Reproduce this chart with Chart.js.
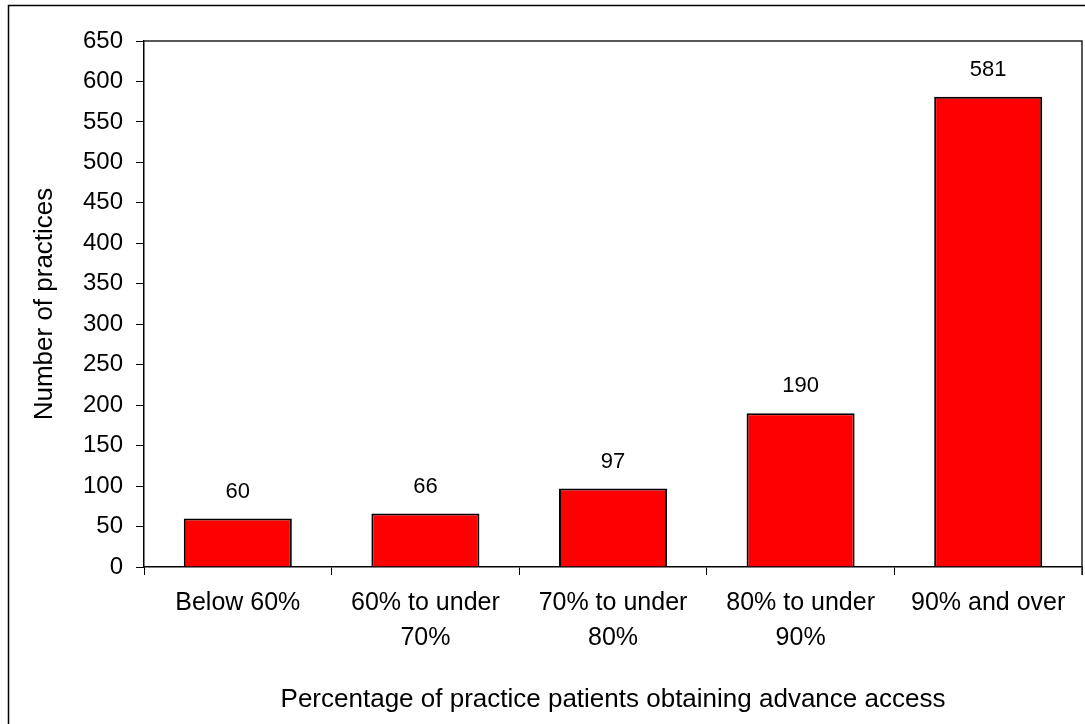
<!DOCTYPE html>
<html>
<head>
<meta charset="utf-8">
<script src="https://cdn.jsdelivr.net/npm/chart.js@4/dist/chart.umd.min.js"></script>
<style>
  html, body { margin: 0; padding: 0; background: #fff; }
  #wrap { width: 1085px; height: 724px; position: relative; }
</style>
</head>
<body>
<div id="wrap"><canvas id="myChart"></canvas></div>
<script>
// chart data
const Categories = [
  ['Below 60%'],
  ['60% to under', '70%'],
  ['70% to under', '80%'],
  ['80% to under', '90%'],
  ['90% and over']
]
const Practices = [60, 66, 97, 190, 581]
const YMax = 650
const YStep = 50

const FONT = "'Liberation Sans', Arial, sans-serif"

// frame round the whole picture (left + top only) and box round plot area
const framePlugin = {
  id: 'frame',
  afterDraw(chart) {
    const c = chart.ctx
    const a = chart.chartArea
    c.save()
    c.strokeStyle = '#000'
    c.lineWidth = 1.5
    c.beginPath()
    c.moveTo(8.5, 730)
    c.lineTo(8.5, 5.5)
    c.lineTo(1090, 5.5)
    c.stroke()
    c.strokeStyle = '#222'
    c.beginPath()
    c.moveTo(a.left, a.top)
    c.lineTo(a.right, a.top)
    c.lineTo(a.right, a.bottom + 8)
    c.stroke()
    c.restore()
  }
}

// value over each bar
const valuePlugin = {
  id: 'values',
  afterDatasetsDraw(chart) {
    const c = chart.ctx
    const meta = chart.getDatasetMeta(0)
    c.save()
    c.font = `22px ${FONT}`
    c.fillStyle = '#000'
    c.textAlign = 'center'
    c.textBaseline = 'middle'
    meta.data.forEach((bar, i) => {
      c.fillText(String(Practices[i]), bar.x, bar.y - 27)
    })
    c.restore()
  }
}

const ctx = document.getElementById('myChart')
new Chart(ctx, {
  type: 'bar',
  data: {
    labels: Categories,
    datasets: [{
      label: 'Number of practices',
      data: Practices,
      backgroundColor: '#ff0000',
      borderColor: '#000',
      borderWidth: 2,
      barPercentage: 0.576,
      categoryPercentage: 1
    }]
  },
  options: {
    responsive: true,
    maintainAspectRatio: false,
    animation: false,
    layout: { padding: { left: 0, top: 41, right: 3, bottom: 0 } },
    plugins: {
      legend: { display: false },
      tooltip: { enabled: false }
    },
    scales: {
      x: {
        grid: {
          offset: true,
          drawOnChartArea: false,
          tickLength: 8,
          color: '#000',
          lineWidth: 1
        },
        border: { color: '#000', width: 1.5 },
        ticks: {
          color: '#000',
          font: { family: FONT, size: 25, lineHeight: 1.4 },
          padding: 11,
          maxRotation: 0,
          autoSkip: false
        },
        title: {
          display: true,
          text: 'Percentage of practice patients obtaining advance access',
          color: '#000',
          font: { family: FONT, size: 26 },
          padding: { top: 0, bottom: 9 }
        },
        afterFit(scale) { scale.height = 724 - 567 }
      },
      y: {
        min: 0,
        max: YMax,
        grid: {
          drawOnChartArea: false,
          tickLength: 8,
          color: '#000',
          lineWidth: 1
        },
        border: { color: '#000', width: 1.5 },
        ticks: {
          stepSize: YStep,
          color: '#000',
          font: { family: FONT, size: 24 },
          padding: 13
        },
        title: {
          display: true,
          text: 'Number of practices',
          color: '#000',
          font: { family: FONT, size: 26 },
          padding: { top: 29, bottom: 0 }
        },
        afterFit(scale) { scale.width = 144 }
      }
    }
  },
  plugins: [framePlugin, valuePlugin]
})
</script>
</body>
</html>
